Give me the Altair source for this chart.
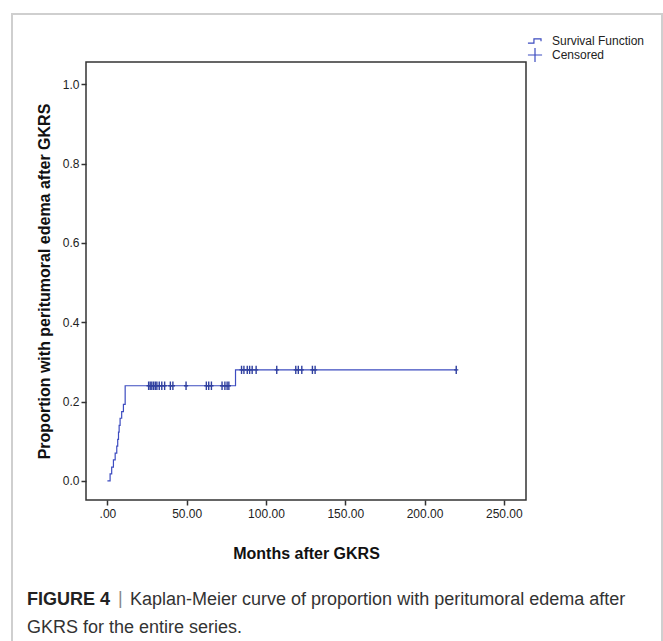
import altair as alt
import pandas as pd

# Step points of the cumulative proportion curve (months, proportion)
event_months = [0.0, 1.7, 2.7, 3.8, 4.9, 5.9, 6.5, 7.0, 7.4, 8.0, 9.0, 10.1, 11.2, 80.8, 220.0]
event_props = [0.0, 0.018, 0.035, 0.053, 0.070, 0.088, 0.105, 0.123, 0.140, 0.158, 0.175, 0.193, 0.240, 0.280, 0.280]

# Censored observations (months)
censored_months = [26.0, 27.0, 28.0, 29.1, 30.2, 31.2, 32.7, 34.3, 36.1, 39.7, 41.3, 49.6,
                   62.4, 63.9, 65.6, 72.3, 74.1, 75.5, 76.6,
                   84.6, 86.1, 88.2, 89.7, 91.3, 93.8, 106.8, 118.8, 120.4, 122.6,
                   129.3, 131.0, 220.0]

x_ticks = [0, 50, 100, 150, 200, 250]
y_ticks = [0.0, 0.2, 0.4, 0.6, 0.8, 1.0]
legend_labels = ["Survival Function", "Censored"]

curve = pd.DataFrame({"months": event_months, "prop": event_props, "series": "Survival Function"})
cens = pd.DataFrame({"months": censored_months})
cens = pd.merge_asof(cens.sort_values("months"), curve[["months", "prop"]].sort_values("months"),
                     on="months", direction="backward")
cens["series"] = "Censored"

LINE = "#3d4cc0"
MARK = "#2f3f9f"
FONT = "Liberation Sans"

x_scale = alt.Scale(domain=[-13.5, 264], nice=False, zero=False)
y_scale = alt.Scale(domain=[-0.048, 1.056], nice=False, zero=False)

x_axis = alt.Axis(values=x_ticks, title="Months after GKRS", grid=False, domain=False,
                  labelExpr="datum.value == 0 ? '.00' : format(datum.value, '.2f')",
                  tickSize=5, tickColor="#333", tickWidth=1.5, labelPadding=3,
                  labelFontSize=12, labelColor="#222", labelFont=FONT,
                  titleFontSize=16, titleFont=FONT, titleFontWeight="bold", titleColor="#111",
                  titlePadding=26)
y_axis = alt.Axis(values=y_ticks, title="Proportion with peritumoral edema after GKRS",
                  grid=False, domain=False, format=".1f",
                  tickSize=5, tickColor="#333", tickWidth=1.5, labelPadding=2,
                  labelFontSize=12, labelColor="#222", labelFont=FONT,
                  titleFontSize=16, titleFont=FONT, titleFontWeight="bold", titleColor="#111",
                  titlePadding=10)

line = alt.Chart(curve).mark_line(interpolate="step-after", color=LINE, strokeWidth=1.2).encode(
    x=alt.X("months:Q", scale=x_scale, axis=x_axis),
    y=alt.Y("prop:Q", scale=y_scale, axis=y_axis),
)

step_path = "M-1,0.3L-0.15,0.3L-0.15,-0.3L0.85,-0.3L0.85,0.05"
plus_path = "M0,-1L0,1M-1,0L1,0"
cens_path = "M0,-1L0,1M-0.5,0L0.5,0"

points = alt.Chart(cens).mark_point(filled=False, color=MARK, strokeWidth=1.4, size=70, opacity=1).encode(
    x=alt.X("months:Q", scale=x_scale),
    y=alt.Y("prop:Q", scale=y_scale),
    shape=alt.Shape("series:N",
                    scale=alt.Scale(domain=legend_labels, range=[cens_path, cens_path]),
                    legend=None),
)

legend_df = pd.DataFrame({"series": legend_labels})
# Legend built from the shape scale of an invisible layer
legend_layer = alt.Chart(legend_df).mark_point(filled=False, color=LINE, strokeWidth=1.2, opacity=0).encode(
    x=alt.value(0), y=alt.value(0),
    shape=alt.Shape("series:N",
                    scale=alt.Scale(domain=legend_labels, range=[step_path, plus_path]),
                    legend=alt.Legend(title=None, orient="none", legendX=441, legendY=-29,
                                      labelFontSize=12, labelFont=FONT, labelColor="#222",
                                      symbolSize=200, symbolStrokeWidth=1.2, symbolStrokeColor=LINE,
                                      symbolFillColor="transparent", symbolOpacity=1,
                                      rowPadding=-5, labelOffset=9, padding=0)),
)

one = alt.Data(values=[{"k": 1}])

border = alt.Chart(one).mark_rect(fill="transparent", stroke="#cfcfcf", strokeWidth=2).encode(
    x=alt.value(-74), x2=alt.value(576), y=alt.value(-48), y2=alt.value(700)
)

CAP = 18
cap_bold = alt.Chart(one).mark_text(text="FIGURE 4", font=FONT, fontSize=CAP, fontWeight="bold",
                                    align="left", baseline="middle", color="#222").encode(
    x=alt.value(-59), y=alt.value(538)
)
cap_bar = alt.Chart(one).mark_text(text="|", font=FONT, fontSize=CAP, align="left", baseline="middle",
                                   color="#888").encode(x=alt.value(32), y=alt.value(537))
cap_line1 = alt.Chart(one).mark_text(text="Kaplan-Meier curve of proportion with peritumoral edema after",
                                     font=FONT, fontSize=CAP, fontWeight=300, align="left",
                                     baseline="middle", color="#333").encode(x=alt.value(44), y=alt.value(538))
cap_line2 = alt.Chart(one).mark_text(text="GKRS for the entire series.", font=FONT, fontSize=CAP,
                                     fontWeight=300, align="left", baseline="middle",
                                     color="#333").encode(x=alt.value(-59), y=alt.value(566))

chart = alt.layer(border, legend_layer, line, points, cap_bold, cap_bar, cap_line1, cap_line2).resolve_scale(
    shape="independent"
).properties(
    width=440, height=438,
    padding={"left": 86, "top": 62, "right": 137, "bottom": 141},
    autosize=alt.AutoSizeParams(type="none"),
    background="white",
).configure_view(stroke="#333", strokeWidth=1.5)

chart.save("out.html", embed_options={"renderer": "svg", "actions": False})
